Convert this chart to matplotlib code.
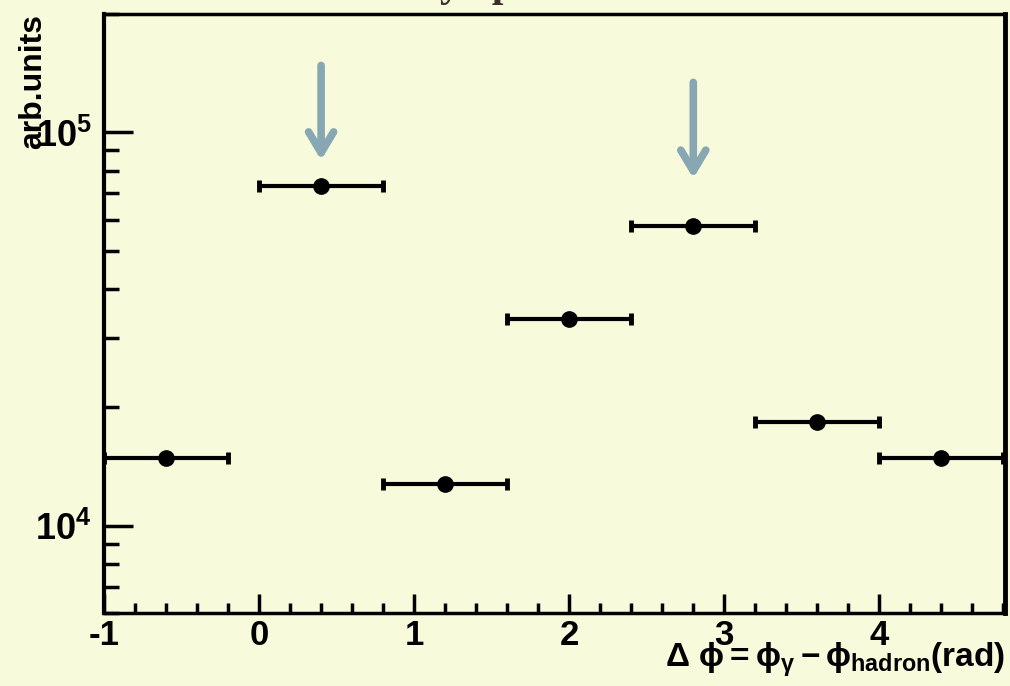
import matplotlib
matplotlib.use("Agg")
import matplotlib.pyplot as plt
from matplotlib.ticker import LogLocator, MultipleLocator, NullFormatter, FixedLocator, FixedFormatter

# ---- data ----
dphi = [-0.6, 0.4, 1.2, 2.0, 2.8, 3.6, 4.4]
dphi_err = [0.4, 0.4, 0.4, 0.4, 0.4, 0.4, 0.4]
counts = [14900, 72900, 12800, 33500, 57700, 18400, 14900]
arrow_x = [0.4, 2.8]
arrow_top = [148000, 134000]
arrow_tip = [85000, 76400]
ytick_vals = [1e4, 1e5]
ytick_labels = [r'$\mathbf{10^{4}}$', r'$\mathbf{10^{5}}$']
xtick_vals = [-1, 0, 1, 2, 3, 4]
xtick_labels = ['-1', '0', '1', '2', '3', '4']

bg = '#f8fadc'
plt.rcParams['font.family'] = ['Liberation Sans', 'DejaVu Sans']
plt.rcParams['mathtext.fontset'] = 'custom'
plt.rcParams['mathtext.rm'] = 'Liberation Sans:bold'
plt.rcParams['mathtext.bf'] = 'Liberation Sans:bold'
plt.rcParams['mathtext.it'] = 'Liberation Sans:bold'

fig = plt.figure(figsize=(10.10, 6.86), dpi=100, facecolor=bg)
ax = fig.add_axes([104/1010, 1-613/686, (1005-104)/1010, (613-14)/686])
ax.set_facecolor(bg)

ax.errorbar(dphi, counts, xerr=dphi_err, fmt='o', color='black', ms=11,
            elinewidth=3, capsize=4.3, capthick=3.5)

for xa, yt, yb in zip(arrow_x, arrow_top, arrow_tip):
    ax.annotate('', xy=(xa, yb), xytext=(xa, yt),
                arrowprops=dict(arrowstyle='->,head_length=1.5,head_width=0.9',
                                color='#87a8b2', lw=5.5, shrinkA=0, shrinkB=0))

ax.set_yscale('log')
ax.set_xlim(-1, 4.81)
ax.set_ylim(6000, 2.0e5)

ax.yaxis.set_major_locator(FixedLocator(ytick_vals))
ax.yaxis.set_major_formatter(FixedFormatter(ytick_labels))
ax.yaxis.set_minor_locator(LogLocator(base=10, subs=range(2, 10)))
ax.yaxis.set_minor_formatter(NullFormatter())
ax.xaxis.set_major_locator(FixedLocator(xtick_vals))
ax.xaxis.set_major_formatter(FixedFormatter(xtick_labels))
ax.xaxis.set_minor_locator(MultipleLocator(0.2))

ax.tick_params(axis='y', which='major', direction='in', length=21, width=2.5,
               labelsize=26, pad=9)
ax.tick_params(axis='y', which='minor', direction='in', length=11, width=2.5)
ax.tick_params(axis='x', which='major', direction='in', length=14, width=2.5,
               labelsize=25, pad=4)
ax.tick_params(axis='x', which='minor', direction='in', length=7.5, width=2.5)
ax.tick_params(top=False, right=False, which='both')
for lab in ax.get_xticklabels():
    lab.set_fontweight('bold')

for side, lw in zip(['left', 'bottom', 'top', 'right'], [3, 2.5, 2.5, 3.5]):
    ax.spines[side].set_linewidth(lw)

fig.text(18/1010, 1-14/686, 'arb.units', rotation=90, ha='left', va='top',
         fontsize=23, fontweight='bold')
fig.text(1005/1010, 1-667/686,
         r'$\Delta\ \phi = \phi_{\gamma} -\phi_{hadron}\mathrm{(rad)}$',
         ha='right', va='baseline', fontsize=24)

# partially cut title at top
fig.text(478/1010, 1 + 4/686, 'y   p', ha='center', va='baseline',
         fontsize=30, family='Liberation Serif', fontweight='bold', color='#3a2e2e')

fig.savefig('out.png', dpi=100, facecolor=bg)
